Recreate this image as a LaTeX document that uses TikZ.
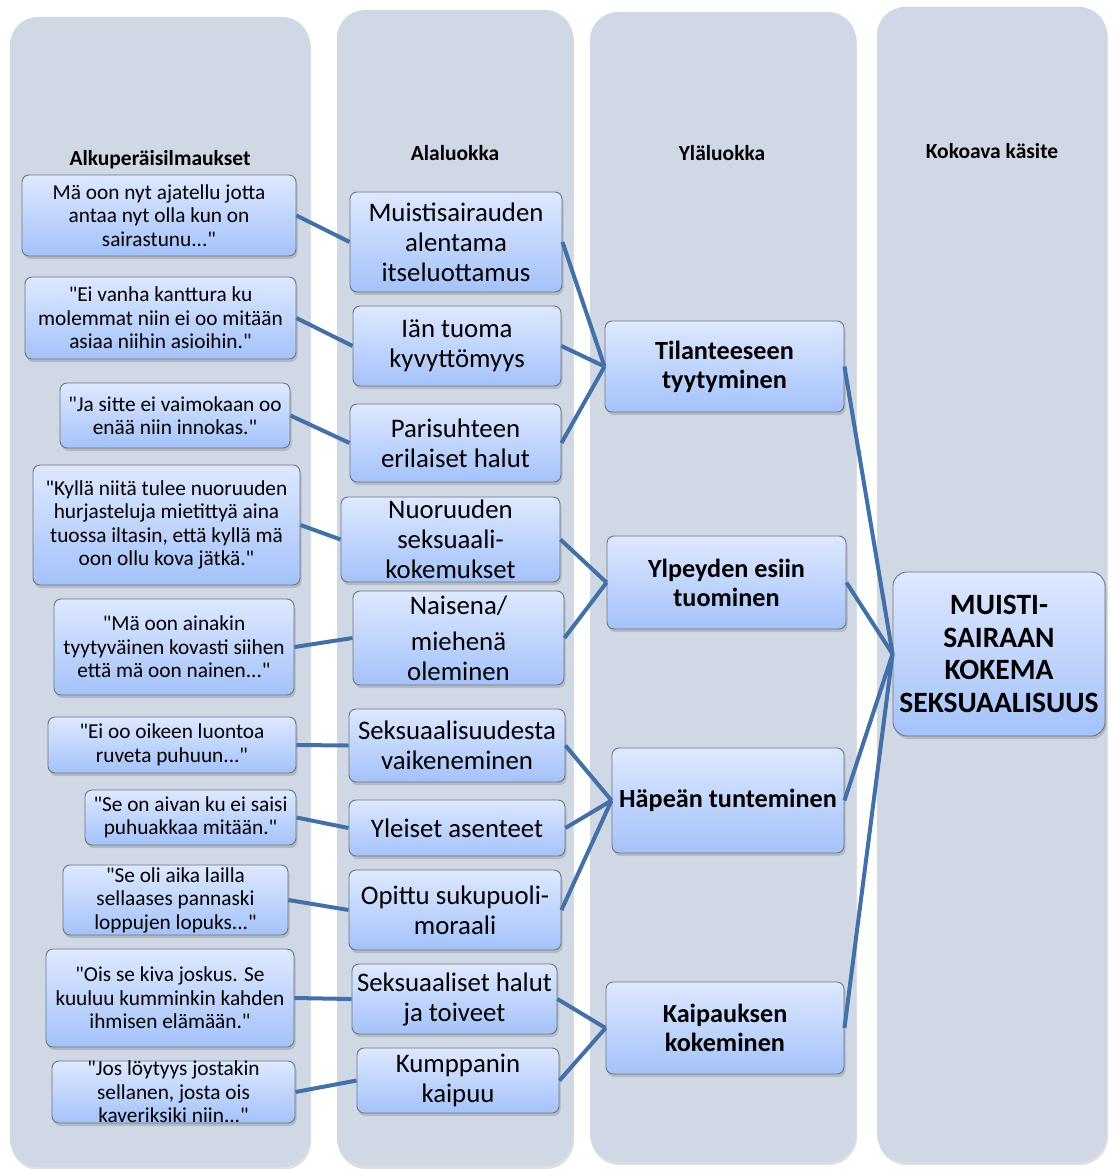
\documentclass[tikz,border=0pt]{standalone}
\usepackage{fontspec}
\setmainfont{Carlito}[Ligatures=TeXOff]
\usetikzlibrary{shadows}
\definecolor{panelc}{HTML}{D0D8E6}
\definecolor{boxtop}{HTML}{DEE8FF}
\definecolor{boxbot}{HTML}{A4C2FA}
\definecolor{boxborder}{HTML}{6F7580}
\definecolor{linec}{HTML}{4470A8}
\tikzset{
  panel/.style={fill=panelc, rounded corners=28pt, inner sep=0pt,
    drop shadow={opacity=0.25, shadow xshift=1pt, shadow yshift=-3pt}},
  hdr/.style={font=\bfseries\fontsize{21.5}{24}\selectfont},
  box/.style={draw=boxborder, line width=0.9pt, rounded corners=7pt,
    top color=boxtop, bottom color=boxbot, align=center, inner sep=0pt,
    drop shadow={opacity=0.35, shadow xshift=1.5pt, shadow yshift=-3pt}},
  qbox/.style={box, font=\fontsize{21.3}{23.5}\selectfont},
  sbox/.style={box, font=\fontsize{26.8}{30}\selectfont},
  tbox/.style={box, font=\bfseries\fontsize{26.2}{29}\selectfont},
  mbox/.style={box, rounded corners=14pt, font=\bfseries\fontsize{29.5}{32.5}\selectfont},
  link/.style={draw=linec, line width=4pt}
}
\begin{document}
\begin{tikzpicture}[x=1pt,y=-1pt]
\useasboundingbox (0,0) rectangle (1112,1169);
% panels
\node[panel, minimum width=300pt, minimum height=1150pt] (P1) at (160,592) {};
\node[panel, minimum width=236pt, minimum height=1156pt] (P2) at (455,588) {};
\node[panel, minimum width=266pt, minimum height=1150pt] (P3) at (723,587) {};
\node[panel, minimum width=230pt, minimum height=1155pt] (P4) at (992,584.5) {};
% headers
\node[hdr] (H1) at (160,160) {Alkuperäisilmaukset};
\node[hdr] (H2) at (455,153) {Alaluokka};
\node[hdr] (H3) at (722,153) {Yläluokka};
\node[hdr] (H4) at (992,151) {Kokoava käsite};
% quotes
\node[qbox, minimum width=274pt, minimum height=81pt] (q1) at (159,215.5) {Mä oon nyt ajatellu jotta\\antaa nyt olla kun on\\sairastunu..."};
\node[qbox, minimum width=271pt, minimum height=82pt] (q2) at (160.5,318) {"Ei vanha kanttura ku\\molemmat niin ei oo mitään\\asiaa niihin asioihin."};
\node[qbox, minimum width=230pt, minimum height=65pt] (q3) at (175,415.5) {"Ja sitte ei vaimokaan oo\\enää niin innokas."};
\node[qbox, minimum width=267pt, minimum height=120pt] (q4) at (166.5,525) {"Kyllä niitä tulee nuoruuden\\hurjasteluja mietittyä aina\\tuossa iltasin, että kyllä mä\\oon ollu kova jätkä."};
\node[qbox, minimum width=240pt, minimum height=96pt] (q5) at (174,647) {"Mä oon ainakin\\tyytyväinen kovasti siihen\\että mä oon nainen..."};
\node[qbox, minimum width=248pt, minimum height=56pt] (q6) at (172,745) {"Ei oo oikeen luontoa\\ruveta puhuun..."};
\node[qbox, minimum width=211pt, minimum height=55pt] (q7) at (190.5,817.5) {"Se on aivan ku ei saisi\\puhuakkaa mitään."};
\node[qbox, minimum width=225pt, minimum height=70pt] (q8) at (175.5,900) {"Se oli aika lailla\\sellaases pannaski\\loppujen lopuks..."};
\node[qbox, minimum width=248pt, minimum height=98pt] (q9) at (170,998) {"Ois se kiva joskus. Se\\kuuluu kumminkin kahden\\ihmisen elämään."};
\node[qbox, minimum width=243pt, minimum height=62pt] (q10) at (173.5,1092) {"Jos löytyys jostakin\\sellanen, josta ois\\kaveriksiki niin..."};
% subcategories
\node[sbox, minimum width=212pt, minimum height=100pt] (s1) at (456,242) {Muistisairauden\\alentama\\itseluottamus};
\node[sbox, minimum width=208pt, minimum height=80pt] (s2) at (457,346) {Iän tuoma\\kyvyttömyys};
\node[sbox, minimum width=211pt, minimum height=78pt] (s3) at (455.5,443) {Parisuhteen\\erilaiset halut};
\node[sbox, minimum width=219pt, minimum height=85pt] (s4) at (450.5,539.5) {Nuoruuden\\seksuaali-\\kokemukset};
\node[sbox, minimum width=211pt, minimum height=94pt] (s5) at (458.5,638) {Naisena/\\[6pt]miehenä\\oleminen};
\node[sbox, minimum width=216pt, minimum height=73pt] (s6) at (457,745.5) {Seksuaalisuudesta\\vaikeneminen};
\node[sbox, minimum width=216pt, minimum height=56pt] (s7) at (457,828) {Yleiset asenteet};
\node[sbox, minimum width=212pt, minimum height=80pt] (s8) at (455,910) {Opittu sukupuoli-\\moraali};
\node[sbox, minimum width=205pt, minimum height=70pt] (s9) at (454.5,999) {Seksuaaliset halut\\ja toiveet};
\node[sbox, minimum width=202pt, minimum height=65pt] (s10) at (458,1080.5) {Kumppanin\\kaipuu};
% top categories
\node[tbox, minimum width=239pt, minimum height=91pt] (t1) at (724.5,366.5) {Tilanteeseen\\tyytyminen};
\node[tbox, minimum width=239pt, minimum height=93pt] (t2) at (726.5,582.5) {Ylpeyden esiin\\tuominen};
\node[tbox, minimum width=232pt, minimum height=105pt] (t3) at (728,800.5) {Häpeän tunteminen};
\node[tbox, minimum width=238pt, minimum height=92pt] (t4) at (725,1028) {Kaipauksen\\kokeminen};
% main
\node[mbox, minimum width=212pt, minimum height=164pt] (m) at (999,654) {MUISTI-\\SAIRAAN\\KOKEMA\\SEKSUAALISUUS};
% connectors
\draw[link] (q1.east) -- (s1.west);
\draw[link] (q2.east) -- (s2.west);
\draw[link] (q3.east) -- (s3.west);
\draw[link] (q4.east) -- (s4.west);
\draw[link] (q5.east) -- (s5.west);
\draw[link] (q6.east) -- (s6.west);
\draw[link] (q7.east) -- (s7.west);
\draw[link] (q8.east) -- (s8.west);
\draw[link] (q9.east) -- (s9.west);
\draw[link] (q10.east) -- (s10.west);
\draw[link] (s1.east) -- (t1.west);
\draw[link] (s2.east) -- (t1.west);
\draw[link] (s3.east) -- (t1.west);
\draw[link] (s4.east) -- (t2.west);
\draw[link] (s5.east) -- (t2.west);
\draw[link] (s6.east) -- (t3.west);
\draw[link] (s7.east) -- (t3.west);
\draw[link] (s8.east) -- (t3.west);
\draw[link] (s9.east) -- (t4.west);
\draw[link] (s10.east) -- (t4.west);
\draw[link] (t1.east) -- (m.west);
\draw[link] (t2.east) -- (m.west);
\draw[link] (t3.east) -- (m.west);
\draw[link] (t4.east) -- (m.west);
\end{tikzpicture}
\end{document}
